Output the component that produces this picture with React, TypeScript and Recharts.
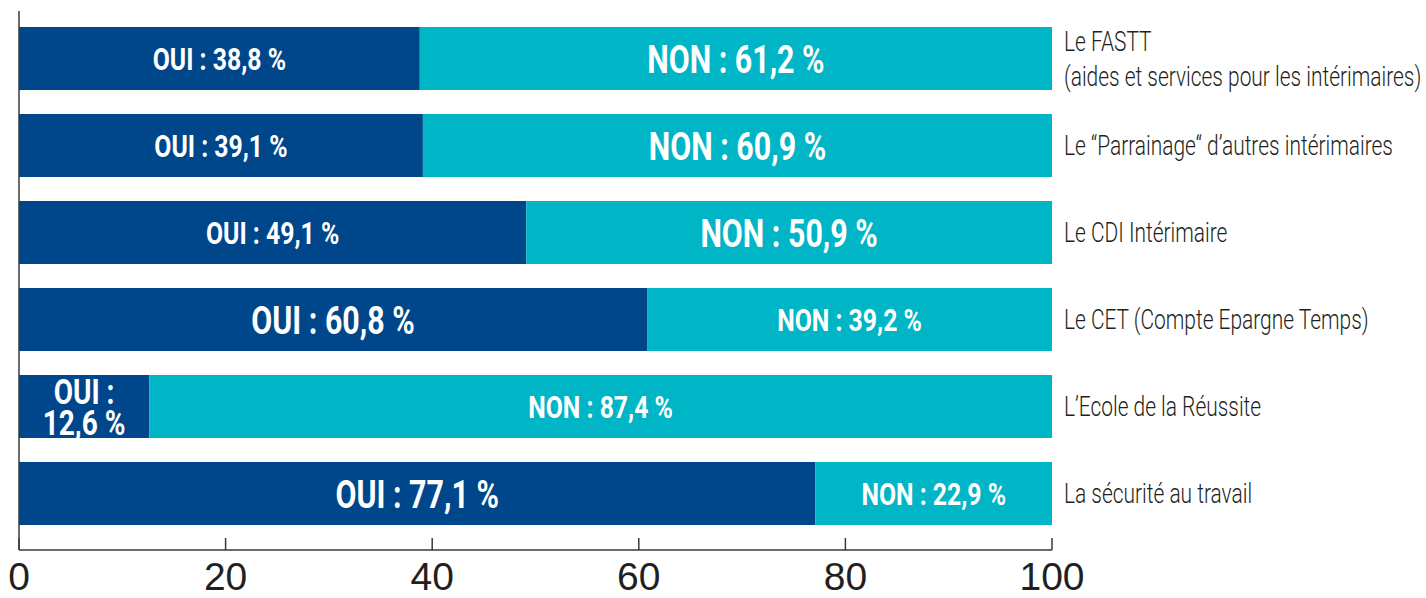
import { BarChart, Bar, XAxis, YAxis, ReferenceLine, LabelList } from 'recharts'

const categories = [
  'Le FASTT\n(aides et services pour les intérimaires)',
  'Le “Parrainage“ d’autres intérimaires',
  'Le CDI Intérimaire',
  'Le CET (Compte Epargne Temps)',
  'L’Ecole de la Réussite',
  'La sécurité au travail',
]
const oui = [38.8, 39.1, 49.1, 60.8, 12.6, 77.1]
const non = [61.2, 60.9, 50.9, 39.2, 87.4, 22.9]
// which label is printed large on each row
const ouiBig = [false, false, false, true, false, true]
const nonBig = [true, true, true, false, false, false]
const xTicks = [0, 20, 40, 60, 80, 100]

const DARK = '#00468a'
const TEAL = '#00b5c6'
const INK = '#231f20'
const FONT = 'Roboto, sans-serif'
const SQUEEZE = 0.8 // fake a condensed face
const SQUEEZE_CAT = 0.775

const data = categories.map((name, i) => ({ name, oui: oui[i], non: non[i] }))

const pct = (v: number) => v.toFixed(1).replace('.', ',') + ' %'

function Narrow({ x, y, size, bold, fill, children }: any) {
  return (
    <text
      transform={`translate(${x},${y}) scale(${SQUEEZE},1)`}
      textAnchor="middle"
      dominantBaseline="central"
      fill={fill}
      fontFamily={FONT}
      fontWeight={bold ? 700 : 400}
      fontSize={size}
    >
      {children}
    </text>
  )
}

function segLabel(prefix: string, big: boolean[]) {
  return (props: any) => {
    const { x, y, width, height, value, index } = props
    const cx = x + width / 2
    const cy = y + height / 2
    if (width < 150) {
      return (
        <g>
          <Narrow x={cx} y={cy - 14} size={35} bold fill="#fff">{prefix} :</Narrow>
          <Narrow x={cx} y={cy + 17} size={35} bold fill="#fff">{pct(value)}</Narrow>
        </g>
      )
    }
    return (
      <Narrow x={cx} y={cy + 1} size={big[index] ? 38 : 31} bold fill="#fff">
        {`${prefix} : ${pct(value)}`}
      </Narrow>
    )
  }
}

const XTick = ({ x, y, payload }: any) => (
  <g>
    <line x1={x} x2={x} y1={y} y2={y - 12} stroke="#3a3a3a" strokeWidth={1.5} />
    <text x={x} y={y + 26} textAnchor="middle" dominantBaseline="central" fill={INK} fontFamily="'Liberation Sans', sans-serif" fontSize={39}>
      {payload.value}
    </text>
  </g>
)

const YTick = ({ x, y, payload }: any) => {
  const lines = String(payload.value).split('\n')
  const lh = 35
  return (
    <text
      transform={`translate(${x},${y}) scale(${SQUEEZE_CAT},1)`}
      textAnchor="start"
      fill={INK}
      fontFamily={FONT}
      fontWeight={300}
      fontSize={27}
    >
      {lines.map((l, i) => (
        <tspan key={i} x={0} dy={i === 0 ? -((lines.length - 1) * lh) / 2 + 1 : lh} dominantBaseline="central">{l}</tspan>
      ))}
    </text>
  )
}

export default function App() {
  return (
    <div style={{ position: 'absolute', left: 0, top: 0, background: '#fff' }}>
      <BarChart width={1426} height={598} data={data} layout="vertical" margin={{ top: 11, right: 0, bottom: 0, left: 19 }}>
        <XAxis
          type="number"
          domain={[0, 100]}
          ticks={xTicks}
          interval={0}
          height={48}
          tickSize={0}
          tickMargin={0}
          tick={<XTick />}
          axisLine={{ stroke: '#3a3a3a', strokeWidth: 1.5 }}
        />
        <YAxis
          type="category"
          dataKey="name"
          orientation="right"
          width={374}
          padding={{ top: 4, bottom: 13 }}
          axisLine={false}
          tickLine={false}
          tickSize={0}
          tickMargin={12}
          interval={0}
          tick={<YTick />}
        />
        <ReferenceLine x={0} stroke="#3a3a3a" strokeWidth={1.5} />
        <Bar dataKey="oui" stackId="a" fill={DARK} barSize={63} isAnimationActive={false}>
          <LabelList dataKey="oui" content={segLabel('OUI', ouiBig)} />
        </Bar>
        <Bar dataKey="non" stackId="a" fill={TEAL} barSize={63} isAnimationActive={false}>
          <LabelList dataKey="non" content={segLabel('NON', nonBig)} />
        </Bar>
      </BarChart>
    </div>
  )
}
